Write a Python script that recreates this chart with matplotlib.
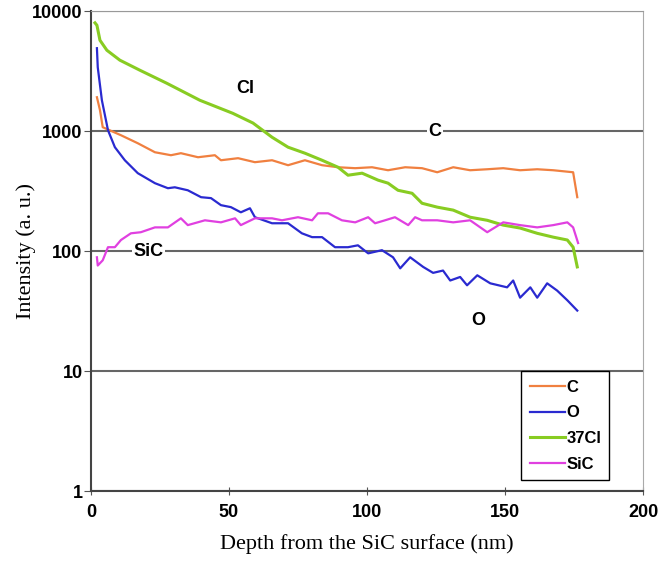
import numpy as np
import matplotlib
matplotlib.use("Agg")
import matplotlib.pyplot as plt

# C
c_x = [2.2, 3.3, 4.3, 10.9, 17.0, 23.2, 29.0, 32.6, 38.8, 44.9, 47.1, 53.3, 59.4, 65.6, 71.4,
       77.5, 83.7, 89.5, 95.7, 101.8, 107.6, 113.8, 119.9, 125.4, 131.2, 137.3, 143.5, 149.3,
       155.4, 161.6, 167.4, 174.6, 176.1]
c_y = [1920, 1500, 1080, 926, 794, 668, 631, 656, 607, 631, 573, 596, 552, 573, 521,
       573, 521, 501, 492, 501, 473, 501, 492, 455, 501, 473, 482, 492,
       473, 482, 473, 455, 282]

# O
o_x = [2.2, 2.5, 4.0, 6.2, 8.7, 12.3, 17.0, 23.2, 27.9, 30.4, 35.1, 39.9, 43.5, 47.1, 50.7,
       54.3, 57.6, 59.4, 65.6, 71.4, 76.4, 80.1, 83.7, 88.4, 93.1, 96.7, 100.4, 105.4, 109.4,
       112.0, 115.6, 120.3, 123.9, 127.5, 130.1, 133.7, 136.2, 139.9, 144.6, 150.7, 152.9,
       155.4, 159.1, 161.6, 165.2, 168.8, 172.5, 176.1]
o_y = [4920, 3410, 1810, 1020, 736, 573, 447, 369, 335, 341, 322, 282, 277, 242, 233,
       211, 228, 192, 171, 171, 141, 131, 131, 108, 108, 112, 96, 102, 89,
       72, 89, 74, 66, 69, 57, 61, 52, 63, 54, 50, 57,
       41, 50, 41, 54, 47, 39, 32]

# 37Cl
cl_x = [1.5, 2.2, 3.3, 5.8, 10.5, 17.8, 27.5, 39.5, 51.4, 58.7, 65.6, 71.4, 77.5, 83.7, 89.5,
        93.1, 98.2, 104.0, 107.6, 111.2, 116.3, 119.9, 125.4, 131.2, 137.3, 143.5, 149.3,
        155.4, 161.6, 167.4, 172.5, 174.6, 176.1]
cl_y = [8000, 7640, 5730, 4730, 3910, 3220, 2510, 1810, 1410, 1170, 891, 736, 656, 573, 501,
        430, 447, 391, 369, 322, 304, 251, 233, 220, 192, 181, 165,
        156, 141, 131, 124, 108, 74]

# SiC
sic_x = [2.2, 2.5, 4.3, 6.2, 8.7, 10.9, 14.5, 18.1, 23.2, 27.9, 32.6, 35.1, 41.3, 47.1, 52.2,
         54.3, 59.4, 65.6, 69.2, 75.0, 80.1, 82.2, 85.9, 90.9, 95.7, 100.4, 102.9, 106.5,
         110.1, 114.9, 117.4, 119.9, 125.4, 131.2, 137.3, 143.5, 149.3, 155.4, 161.6, 167.4,
         172.5, 174.6, 176.4]
sic_y = [89, 76, 84, 108, 108, 124, 141, 144, 158, 158, 188, 165, 181, 174, 188,
         165, 188, 188, 181, 192, 181, 207, 207, 181, 174, 192, 171, 181,
         192, 165, 192, 181, 181, 174, 181, 144, 174, 165, 158, 165,
         174, 158, 117]

fig = plt.figure(figsize=(6.68, 5.62), dpi=100)
ax = fig.add_axes([0.136, 0.126, 0.827, 0.854])

ax.plot(c_x, c_y, color="#f08040", lw=1.6, label="C")
ax.plot(o_x, o_y, color="#2a2ad0", lw=1.6, label="O")
ax.plot(cl_x, cl_y, color="#88cc22", lw=2.2, label="37Cl")
ax.plot(sic_x, sic_y, color="#e040e0", lw=1.6, label="SiC")

ax.set_yscale("log")
ax.set_ylim(1, 10000)
ax.set_xlim(0, 200)
ax.set_xticks([0, 50, 100, 150, 200])
ax.set_yticks([1, 10, 100, 1000, 10000])
ax.set_yticklabels(["1", "10", "100", "1000", "10000"])
ax.minorticks_off()
ax.yaxis.grid(True, color="#666666", lw=1.5)
ax.set_axisbelow(True)

for lab in ax.get_xticklabels() + ax.get_yticklabels():
    lab.set_fontweight("bold")
    lab.set_fontsize(13)
    lab.set_family("Liberation Sans")
ax.tick_params(axis="x", direction="inout", length=6, color="#555555", pad=6)
ax.tick_params(axis="y", direction="out", length=5, color="#555555", pad=1)

ax.spines["left"].set_color("#444444")
ax.spines["left"].set_linewidth(1.5)
ax.spines["bottom"].set_color("#444444")
ax.spines["bottom"].set_linewidth(1.5)
ax.spines["right"].set_color("#aaaaaa")
ax.spines["top"].set_color("#999999")

ax.set_xlabel("Depth from the SiC surface (nm)", family="Liberation Serif", fontsize=16,
              labelpad=10)
ax.set_ylabel("Intensity (a. u.)", family="Liberation Serif", fontsize=16, labelpad=-3)

kw = dict(fontweight="bold", fontsize=13, family="Liberation Sans", ha="center", va="center")
ax.text(55.8, 2280, "Cl", **kw)
ax.text(124.6, 1000, "C", bbox=dict(facecolor="white", edgecolor="none", pad=1), **kw)
ax.text(20.7, 100, "SiC", bbox=dict(facecolor="white", edgecolor="none", pad=1), **kw)
ax.text(140.2, 26.6, "O", **kw)

leg = ax.legend(loc="upper left", bbox_to_anchor=(0.779, 0.25), borderaxespad=0,
                fancybox=False, edgecolor="black", framealpha=1, handlelength=2.1,
                handletextpad=0.1, labelspacing=0.65, borderpad=0.5,
                prop=dict(weight="bold", size=12, family="Liberation Sans"))
leg.get_frame().set_linewidth(1.0)

fig.savefig("out.png", dpi=100)
